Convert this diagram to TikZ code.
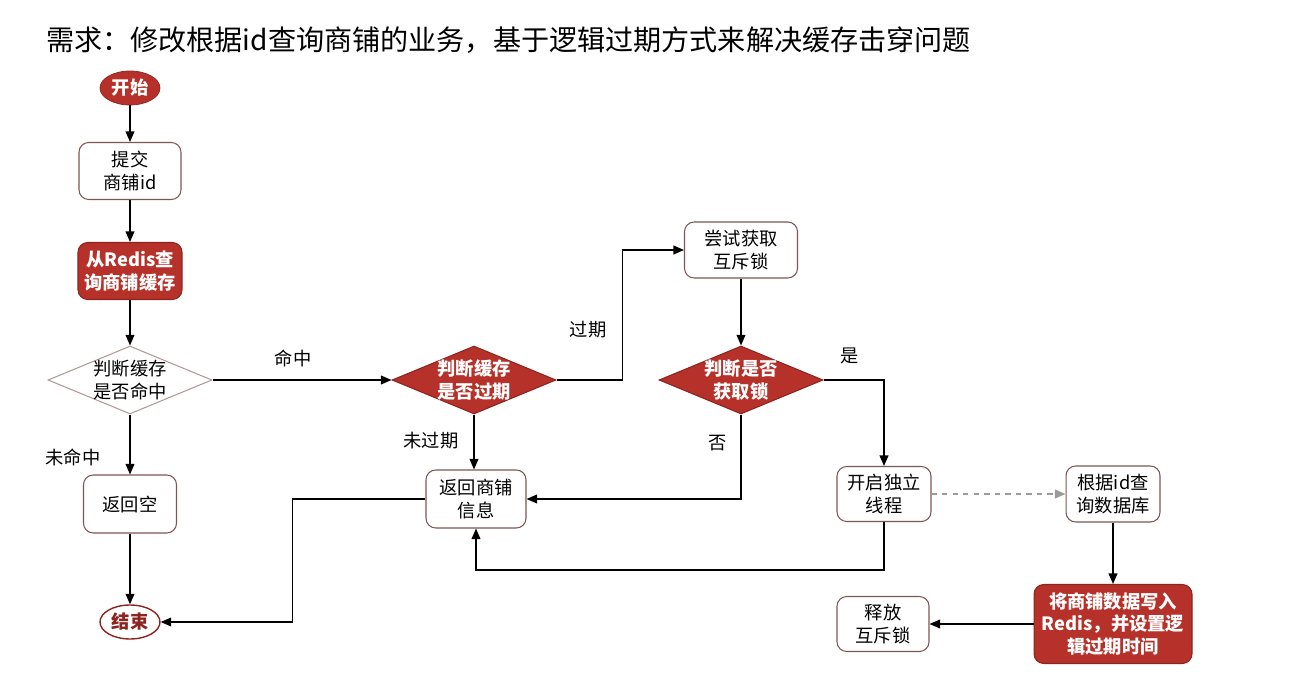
\documentclass[tikz,border=0pt]{standalone}
\usepackage{fontspec}
\setmainfont{Noto Sans CJK SC}
\usetikzlibrary{arrows.meta,shapes.geometric,positioning}
\definecolor{fcRed}{HTML}{B5312A}
\definecolor{fcRedDark}{HTML}{8E2420}
\definecolor{fcLine}{HTML}{7D5553}
\definecolor{fcGray}{HTML}{9A9A9A}

\begin{document}
\begin{tikzpicture}[x=0.02cm,y=-0.02cm,
    box/.style={draw=fcLine,line width=0.6pt,rounded corners=5.5pt,fill=white,align=center,inner sep=1pt,font=\fontsize{10.4}{12.8}\selectfont},
    redbox/.style={box,fill=fcRed,draw=fcRedDark,text=white,font=\fontsize{10.4}{12.8}\selectfont\bfseries},
    chk/.style={diamond,aspect=2.4,draw=fcLine!60,line width=0.6pt,inner sep=-8pt,minimum width=3.28cm,minimum height=1.36cm,align=center,font=\fontsize{10.4}{12.8}\selectfont},
    redchk/.style={chk,fill=fcRed,draw=fcRedDark,text=white,font=\fontsize{10.4}{12.8}\selectfont\bfseries},
    term/.style={ellipse,inner sep=0pt,minimum width=1.2cm,minimum height=0.68cm,font=\fontsize{10.4}{12.8}\selectfont\bfseries},
    lbl/.style={font=\fontsize{10.4}{12.8}\selectfont},
    arr/.style={-{Triangle[length=6pt,width=5pt]},line width=0.8pt}]
    \useasboundingbox (0,0) rectangle (1310,678);
    \node[anchor=west,font=\fontsize{16}{20}\selectfont] (title) at (40,40) {需求：修改根据id查询商铺的业务，基于逻辑过期方式来解决缓存击穿问题};
    % left column
    \node[term,fill=fcRed,draw=fcRedDark,text=white] (start) at (130,88) {开始};
    \node[box,minimum width=2.04cm,minimum height=1.14cm] (submit) at (130,171) {提交\\商铺id};
    \node[redbox,minimum width=2.08cm,minimum height=1.14cm] (query) at (130,271) {从Redis查\\询商铺缓存};
    \node[chk] (hit) at (130,380) {判断缓存\\是否命中};
    \node[box,minimum width=1.86cm,minimum height=1.16cm] (retnull) at (130,504) {返回空};
    \node[term,fill=white,draw=fcRedDark,line width=0.8pt,text=fcRedDark] (end) at (130,622) {结束};
    % middle
    \node[redchk] (expired) at (474,380) {判断缓存\\是否过期};
    \node[box,minimum width=2cm,minimum height=1.16cm] (retshop) at (476,499) {返回商铺\\信息};
    \node[box,minimum width=2.26cm,minimum height=1.12cm] (trylock) at (741,250) {尝试获取\\互斥锁};
    \node[redchk] (lockq) at (741,380) {判断是否\\获取锁};
    % right
    \node[box,minimum width=1.88cm,minimum height=1.1cm] (thread) at (884,494) {开启独立\\线程};
    \node[box,minimum width=1.88cm,minimum height=1.12cm] (querydb) at (1113,494) {根据id查\\询数据库};
    \node[redbox,minimum width=3.16cm,minimum height=1.58cm] (write) at (1113,624) {将商铺数据写入\\Redis，并设置逻\\辑过期时间};
    \node[box,minimum width=1.84cm,minimum height=1.1cm] (unlock) at (883,624) {释放\\互斥锁};
    % labels
    \node[lbl] (lhit) at (293,358) {命中};
    \node[lbl] (lmiss) at (73,457) {未命中};
    \node[lbl] (lexp) at (588,330) {过期};
    \node[lbl] (lnexp) at (431,441) {未过期};
    \node[lbl] (lyes) at (850,356) {是};
    \node[lbl] (lno) at (718,443) {否};
    % connectors
    \draw[arr] (start) -- (submit);
    \draw[arr] (submit) -- (query);
    \draw[arr] (query) -- (hit);
    \draw[arr] (hit) -- (retnull);
    \draw[arr] (retnull) -- (end);
    \draw[arr] (hit) -- (expired);
    \draw[arr] (expired.south) -- (expired.south |- retshop.north);
    \draw[arr] (expired.east) -- ++(66,0) |- (trylock.west);
    \draw[arr] (trylock) -- (lockq);
    \draw[arr] (lockq.east) -| (thread.north);
    \draw[arr] (lockq.south) |- (retshop.east);
    \draw[arr] (retshop.west) -- ++(-133,0) |- (end.east);
    \draw[arr] (thread.south) -- ++(0,48) -| (retshop.south);
    \draw[arr,fcGray,dashed] (thread) -- (querydb);
    \draw[arr] (querydb) -- (write);
    \draw[arr] (write) -- (unlock);
\end{tikzpicture}
\end{document}
